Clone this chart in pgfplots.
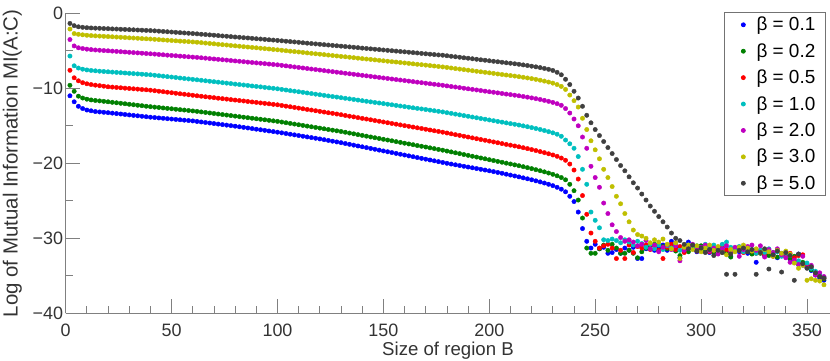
\documentclass[border=0pt]{standalone}
\usepackage{fontspec}
\setmainfont{Liberation Sans}
\usepackage{pgfplots}
\usepackage{pgfplotstable}
\pgfplotsset{compat=1.18}
\definecolor{cB}{rgb}{0,0,1}
\definecolor{cG}{rgb}{0,0.5,0}
\definecolor{cR}{rgb}{1,0,0}
\definecolor{cC}{rgb}{0,0.75,0.75}
\definecolor{cM}{rgb}{0.75,0,0.75}
\definecolor{cY}{rgb}{0.75,0.75,0}
\definecolor{cK}{rgb}{0.25,0.25,0.25}
\pgfplotstableread{
x a b c d e f g
2 -11.0 -9.6 -7.6 -5.7 -3.5 -2.1 -1.35
4 -11.8 -10.4 -8.6 -7.0 -4.35 -2.7 -1.65
6 -12.4 -11.05 -9.0 -7.3 -4.6 -2.8 -1.8
8 -12.7 -11.3 -9.25 -7.45 -4.7 -2.87 -1.87
10 -12.9 -11.45 -9.4 -7.55 -4.78 -2.93 -1.92
12 -13.0 -11.55 -9.5 -7.62 -4.84 -2.97 -1.95
14 -13.1 -11.62 -9.58 -7.67 -4.89 -3.01 -1.98
16 -13.15 -11.68 -9.65 -7.72 -4.93 -3.04 -2.0
18 -13.2 -11.74 -9.72 -7.76 -4.97 -3.07 -2.03
20 -13.25 -11.8 -9.8 -7.8 -5.0 -3.1 -2.05
22 -13.31 -11.87 -9.84 -7.84 -5.04 -3.13 -2.08
24 -13.37 -11.93 -9.89 -7.88 -5.08 -3.17 -2.1
26 -13.43 -12.0 -9.93 -7.92 -5.12 -3.2 -2.13
28 -13.49 -12.06 -9.98 -7.96 -5.16 -3.23 -2.15
30 -13.55 -12.13 -10.02 -8.0 -5.2 -3.27 -2.18
32 -13.61 -12.19 -10.07 -8.04 -5.24 -3.3 -2.2
34 -13.67 -12.26 -10.11 -8.08 -5.28 -3.33 -2.23
36 -13.73 -12.32 -10.16 -8.12 -5.32 -3.37 -2.25
38 -13.79 -12.39 -10.2 -8.16 -5.36 -3.4 -2.28
40 -13.85 -12.45 -10.25 -8.2 -5.4 -3.43 -2.3
42 -13.9 -12.51 -10.32 -8.26 -5.44 -3.47 -2.34
44 -13.95 -12.56 -10.39 -8.32 -5.49 -3.51 -2.38
46 -14.0 -12.62 -10.45 -8.38 -5.53 -3.55 -2.42
48 -14.05 -12.68 -10.52 -8.44 -5.58 -3.59 -2.46
50 -14.1 -12.73 -10.59 -8.5 -5.62 -3.63 -2.5
52 -14.15 -12.79 -10.66 -8.56 -5.66 -3.67 -2.54
54 -14.2 -12.85 -10.73 -8.63 -5.71 -3.71 -2.58
56 -14.25 -12.9 -10.79 -8.69 -5.75 -3.74 -2.62
58 -14.3 -12.96 -10.86 -8.75 -5.8 -3.78 -2.66
60 -14.35 -13.02 -10.93 -8.81 -5.84 -3.82 -2.7
62 -14.42 -13.08 -11.0 -8.87 -5.88 -3.86 -2.74
64 -14.49 -13.15 -11.06 -8.93 -5.93 -3.91 -2.79
66 -14.56 -13.22 -11.13 -9.0 -5.98 -3.97 -2.83
68 -14.63 -13.29 -11.19 -9.06 -6.04 -4.02 -2.88
70 -14.7 -13.36 -11.25 -9.12 -6.09 -4.07 -2.92
72 -14.77 -13.43 -11.32 -9.18 -6.14 -4.13 -2.97
74 -14.84 -13.5 -11.38 -9.25 -6.19 -4.18 -3.02
76 -14.91 -13.57 -11.44 -9.31 -6.24 -4.23 -3.06
78 -14.98 -13.64 -11.51 -9.37 -6.3 -4.29 -3.11
80 -15.05 -13.71 -11.57 -9.44 -6.35 -4.34 -3.16
82 -15.13 -13.78 -11.63 -9.5 -6.4 -4.39 -3.2
84 -15.21 -13.85 -11.69 -9.56 -6.45 -4.45 -3.25
86 -15.29 -13.92 -11.76 -9.62 -6.51 -4.5 -3.29
88 -15.37 -13.99 -11.82 -9.69 -6.56 -4.55 -3.34
90 -15.45 -14.06 -11.88 -9.75 -6.61 -4.6 -3.39
92 -15.53 -14.13 -11.95 -9.81 -6.66 -4.66 -3.43
94 -15.61 -14.2 -12.01 -9.88 -6.71 -4.71 -3.48
96 -15.69 -14.27 -12.07 -9.94 -6.77 -4.76 -3.53
98 -15.77 -14.34 -12.14 -10.0 -6.82 -4.82 -3.57
100 -15.85 -14.41 -12.2 -10.07 -6.87 -4.87 -3.62
102 -15.94 -14.5 -12.29 -10.15 -6.94 -4.93 -3.67
104 -16.03 -14.59 -12.38 -10.23 -7.01 -4.99 -3.72
106 -16.12 -14.68 -12.46 -10.31 -7.08 -5.05 -3.77
108 -16.21 -14.77 -12.55 -10.38 -7.15 -5.1 -3.82
110 -16.3 -14.86 -12.64 -10.46 -7.22 -5.16 -3.87
112 -16.39 -14.95 -12.73 -10.54 -7.29 -5.22 -3.93
114 -16.48 -15.04 -12.82 -10.62 -7.36 -5.28 -3.98
116 -16.57 -15.13 -12.9 -10.7 -7.43 -5.34 -4.03
118 -16.66 -15.22 -12.99 -10.78 -7.5 -5.4 -4.08
120 -16.75 -15.31 -13.08 -10.86 -7.57 -5.45 -4.13
122 -16.85 -15.4 -13.17 -10.94 -7.64 -5.51 -4.18
124 -16.95 -15.49 -13.26 -11.02 -7.71 -5.57 -4.23
126 -17.05 -15.58 -13.34 -11.1 -7.78 -5.63 -4.28
128 -17.15 -15.67 -13.43 -11.17 -7.85 -5.69 -4.33
130 -17.25 -15.76 -13.52 -11.25 -7.92 -5.75 -4.38
132 -17.36 -15.86 -13.62 -11.33 -7.99 -5.8 -4.43
134 -17.47 -15.97 -13.72 -11.41 -8.06 -5.86 -4.48
136 -17.58 -16.07 -13.81 -11.49 -8.13 -5.92 -4.53
138 -17.69 -16.18 -13.91 -11.57 -8.2 -5.98 -4.58
140 -17.8 -16.28 -14.01 -11.65 -8.27 -6.04 -4.64
142 -17.91 -16.38 -14.1 -11.73 -8.34 -6.1 -4.69
144 -18.02 -16.49 -14.2 -11.81 -8.41 -6.15 -4.74
146 -18.13 -16.59 -14.3 -11.89 -8.48 -6.21 -4.79
148 -18.24 -16.69 -14.39 -11.96 -8.55 -6.27 -4.84
150 -18.35 -16.8 -14.49 -12.04 -8.62 -6.33 -4.89
152 -18.46 -16.9 -14.59 -12.12 -8.69 -6.39 -4.94
154 -18.57 -17.0 -14.69 -12.2 -8.76 -6.45 -4.99
156 -18.68 -17.11 -14.78 -12.28 -8.83 -6.5 -5.04
158 -18.79 -17.21 -14.88 -12.36 -8.9 -6.56 -5.09
160 -18.9 -17.32 -14.98 -12.44 -8.97 -6.62 -5.14
162 -19.01 -17.42 -15.07 -12.52 -9.04 -6.68 -5.19
164 -19.12 -17.52 -15.17 -12.6 -9.11 -6.74 -5.24
166 -19.23 -17.63 -15.27 -12.68 -9.18 -6.8 -5.29
168 -19.34 -17.73 -15.36 -12.75 -9.25 -6.85 -5.35
170 -19.45 -17.83 -15.46 -12.83 -9.32 -6.91 -5.4
172 -19.56 -17.94 -15.56 -12.91 -9.39 -6.97 -5.45
174 -19.67 -18.04 -15.66 -12.99 -9.46 -7.03 -5.5
176 -19.78 -18.15 -15.75 -13.07 -9.53 -7.09 -5.55
178 -19.89 -18.25 -15.85 -13.15 -9.6 -7.15 -5.59
180 -20.0 -18.37 -15.96 -13.25 -9.68 -7.22 -5.66
182 -20.1 -18.48 -16.07 -13.34 -9.76 -7.29 -5.73
184 -20.2 -18.6 -16.18 -13.44 -9.83 -7.37 -5.79
186 -20.3 -18.71 -16.28 -13.54 -9.91 -7.44 -5.86
188 -20.4 -18.83 -16.39 -13.64 -9.99 -7.51 -5.93
190 -20.5 -18.94 -16.5 -13.73 -10.07 -7.58 -5.99
192 -20.6 -19.06 -16.61 -13.83 -10.14 -7.65 -6.06
194 -20.7 -19.17 -16.72 -13.93 -10.22 -7.73 -6.13
196 -20.8 -19.29 -16.83 -14.03 -10.3 -7.8 -6.2
198 -20.9 -19.4 -16.93 -14.12 -10.38 -7.87 -6.26
200 -21.0 -19.52 -17.04 -14.22 -10.46 -7.94 -6.33
202 -21.11 -19.63 -17.15 -14.32 -10.53 -8.01 -6.4
204 -21.22 -19.75 -17.26 -14.42 -10.61 -8.09 -6.46
206 -21.33 -19.86 -17.37 -14.51 -10.69 -8.16 -6.53
208 -21.45 -19.98 -17.48 -14.61 -10.77 -8.23 -6.6
210 -21.57 -20.09 -17.58 -14.71 -10.84 -8.3 -6.66
212 -21.69 -20.21 -17.69 -14.8 -10.92 -8.37 -6.73
214 -21.81 -20.32 -17.8 -14.9 -11.0 -8.45 -6.8
216 -21.94 -20.45 -17.92 -15.01 -11.09 -8.53 -6.88
218 -22.07 -20.58 -18.04 -15.12 -11.18 -8.62 -6.96
220 -22.2 -20.71 -18.17 -15.24 -11.28 -8.71 -7.05
222 -22.34 -20.85 -18.3 -15.36 -11.38 -8.81 -7.14
224 -22.48 -20.99 -18.44 -15.49 -11.49 -8.92 -7.24
226 -22.63 -21.14 -18.58 -15.63 -11.61 -9.04 -7.35
228 -22.8 -21.3 -18.73 -15.78 -11.74 -9.17 -7.47
230 -22.98 -21.47 -18.89 -15.94 -11.88 -9.31 -7.62
232 -23.2 -21.67 -19.07 -16.12 -12.05 -9.5 -7.87
234 -23.45 -21.9 -19.3 -16.4 -12.27 -9.75 -8.2
236 -23.8 -22.2 -19.6 -16.9 -12.7 -10.15 -8.8
238 -24.4 -22.8 -20.1 -17.4 -13.3 -10.9 -9.5
240 -25.1 -23.65 -20.9 -18.0 -14.1 -11.65 -10.4
242 -26.5 -24.9 -22.1 -19.1 -15.0 -12.5 -11.3
244 -28.7 -27.3 -24.3 -20.8 -16.5 -14.0 -12.4
246 -30.4 -31.3 -26.8 -22.8 -18.0 -15.5 -13.6
248 -31.3 -32.0 -29.3 -26.5 -20.4 -17.0 -14.6
250 -30.8 -32.0 -30.4 -27.6 -21.9 -18.2 -15.5
252 -31.4 -31.4 -31.3 -28.6 -23.2 -19.4 -16.3
254 -31.2 -30.9 -31.0 -30.2 -25.3 -20.8 -17.1
256 -32.0 -31.6 -30.8 -30.3 -26.7 -21.9 -17.9
258 -31.9 -30.8 -31.3 -30.1 -28.2 -23.1 -18.7
260 -31.5 -31.3 -32.7 -30.3 -29.1 -24.4 -19.5
262 -32.0 -32.0 -31.6 -30.6 -29.9 -25.4 -20.3
264 -31.3 -32.0 -32.7 -30.2 -30.4 -26.7 -21.0
266 -31.6 -31.6 -30.9 -30.5 -30.2 -27.8 -21.8
268 -31.2 -32.0 -31.9 -30.9 -30.5 -28.9 -22.6
270 -32.7 -32.6 -31.1 -30.4 -31.0 -29.5 -23.3
272 -32.7 -31.8 -31.3 -30.7 -30.8 -29.7 -24.1
274 -31.4 -31.3 -30.9 -31.2 -30.3 -30.0 -24.9
276 -31.0 -31.0 -31.5 -30.8 -31.4 -30.6 -25.7
278 -31.6 -30.8 -31.0 -31.4 -30.9 -30.2 -26.4
280 -31.3 -31.6 -31.6 -30.9 -31.8 -30.5 -27.1
282 -30.9 -31.1 -32.7 -31.5 -31.2 -30.1 -27.8
284 -31.6 -31.4 -31.2 -31.0 -30.9 -30.8 -28.5
286 -30.4 -30.9 -30.8 -31.3 -31.5 -31.4 -29.3
288 -31.2 -31.7 -31.5 -30.8 -31.0 -30.6 -30.0
290 -32.6 -32.3 -31.1 -31.6 -33.0 -32.7 -30.3
292 -31.5 -31.5 -31.9 -31.2 -31.6 -31.2 -30.8
294 -30.5 -31.8 -31.3 -30.9 -31.1 -30.9 -31.4
296 -31.1 -31.2 -31.0 -31.4 -30.8 -31.5 -30.9
298 -31.8 -31.5 -31.7 -31.0 -31.5 -31.0 -31.7
300 -31.4 -31.0 -31.4 -31.3 -31.2 -31.8 -31.3
302 -31.0 -31.7 -31.1 -30.8 -30.9 -31.3 -31.9
304 -31.9 -31.4 -31.8 -31.2 -31.7 -30.9 -31.5
306 -31.3 -31.9 -31.2 -30.9 -31.3 -31.6 -32.3
308 -31.6 -31.3 -31.6 -31.5 -32.1 -31.1 -31.6
310 -31.2 -31.7 -30.9 -30.8 -31.4 -31.9 -31.9
312 -31.9 -32.0 -31.5 -30.5 -31.0 -32.2 -34.8
314 -32.4 -32.5 -31.8 -31.2 -31.8 -31.5 -32.1
316 -31.5 -31.6 -31.3 -31.6 -31.2 -31.8 -34.8
318 -31.8 -31.2 -31.6 -31.1 -32.4 -31.2 -31.6
320 -31.4 -31.8 -31.9 -31.8 -31.5 -30.9 -31.3
322 -32.0 -31.5 -31.4 -31.3 -31.1 -31.3 -31.8
324 -31.6 -32.1 -31.7 -31.5 -30.9 -31.7 -31.5
326 -33.2 -31.7 -32.0 -32.0 -31.6 -31.4 -34.8
328 -31.9 -32.0 -31.6 -31.6 -31.0 -31.9 -31.9
330 -32.3 -31.6 -32.2 -31.9 -32.5 -31.5 -31.4
332 -31.7 -32.3 -31.8 -31.4 -31.5 -31.8 -34.1
334 -32.1 -31.9 -32.4 -32.1 -31.9 -32.4 -32.2
336 -32.6 -32.5 -31.7 -31.8 -31.4 -31.6 -31.7
338 -32.0 -32.2 -32.1 -32.4 -32.2 -32.0 -34.5
340 -32.4 -32.0 -32.5 -32.0 -32.6 -31.7 -31.9
342 -32.8 -32.7 -32.0 -32.3 -33.2 -32.1 -32.3
344 -33.1 -32.4 -32.6 -33.2 -32.9 -33.3 -35.6
346 -32.1 -33.5 -32.3 -33.0 -33.5 -34.0 -32.1
348 -33.4 -33.2 -32.2 -33.6 -32.4 -33.6 -33.4
350 -33.9 -33.7 -33.8 -33.3 -33.9 -35.6 -34.0
352 -34.3 -34.2 -33.8 -34.0 -33.6 -35.4 -33.8
354 -34.9 -34.6 -34.7 -34.4 -34.9 -35.6 -34.6
356 -35.3 -35.0 -35.0 -34.8 -34.6 -35.7 -35.1
358 -35.6 -35.4 -35.3 -35.2 -35.1 -36.2 -35.3
}\data
\begin{document}
\begin{tikzpicture}
\begin{axis}[
  at={(0,0)}, anchor=south west,
  scale only axis, width=764.6bp, height=300bp,
  xmin=0, xmax=361, ymin=-40, ymax=0,
  axis x line*=bottom, axis y line*=left,
  axis line style={-, black!50, line width=0.8bp},
  tick align=inside,
  major tick length=14bp, minor tick length=7bp,
  tick style={black!50, line width=0.8bp},
  xtick={0,50,100,150,200,250,300,350},
  xticklabels={0,50,100,150,200,250,300,350},
  minor x tick num=4,
  ytick={-40,-30,-20,-10,0},
  yticklabels={−40,−30,−20,−10,0},
  minor y tick num=1,
  ticklabel style={font=\fontsize{18}{18}\selectfont, text=black!80},
  xticklabel style={anchor=base, inner sep=0pt, yshift=-23.2bp},
  yticklabel style={anchor=east, inner sep=0pt, xshift=-2.5bp},
  xlabel={Size of region B},
  ylabel={Log of Mutual Information MI(A:C)},
  xlabel style={font=\fontsize{18.7}{18.7}\selectfont, text=black!80, at={(axis description cs:0.5,0)}, anchor=base, inner sep=0pt, yshift=-42.3bp},
  ylabel style={font=\fontsize{20.5}{20.5}\selectfont, text=black!80, at={(axis description cs:-0.0628,0.5)}, anchor=base, inner sep=0pt},
  legend style={at={(0.994,1.005)}, anchor=north east, draw=black!55, line width=0.8bp,
    fill=white, font=\fontsize{19}{19}\selectfont, inner xsep=8bp, inner ysep=3bp,
    row sep=7.2bp, column sep=3.2bp, nodes={inner sep=2bp, text=black}},
  legend cell align=left,
  legend image code/.code={%
    \path (0bp,-2bp) (18bp,2bp);
    \draw[#1, mark size=2bp] plot coordinates {(10.4bp,0bp)};},
  every axis plot/.append style={only marks, mark=*, mark size=2.2bp, mark options={draw=none}},
]
\addplot[color=cB] table[x=x,y=a]{\data};
\addlegendentry{β = 0.1}
\addplot[color=cG] table[x=x,y=b]{\data};
\addlegendentry{β = 0.2}
\addplot[color=cR] table[x=x,y=c]{\data};
\addlegendentry{β = 0.5}
\addplot[color=cC] table[x=x,y=d]{\data};
\addlegendentry{β = 1.0}
\addplot[color=cM] table[x=x,y=e]{\data};
\addlegendentry{β = 2.0}
\addplot[color=cY] table[x=x,y=f]{\data};
\addlegendentry{β = 3.0}
\addplot[color=cK] table[x=x,y=g]{\data};
\addlegendentry{β = 5.0}
\end{axis}
\pgfresetboundingbox
\useasboundingbox (-65.7bp,-47.7bp) rectangle (764.3bp,313.3bp);
\end{tikzpicture}
\end{document}
